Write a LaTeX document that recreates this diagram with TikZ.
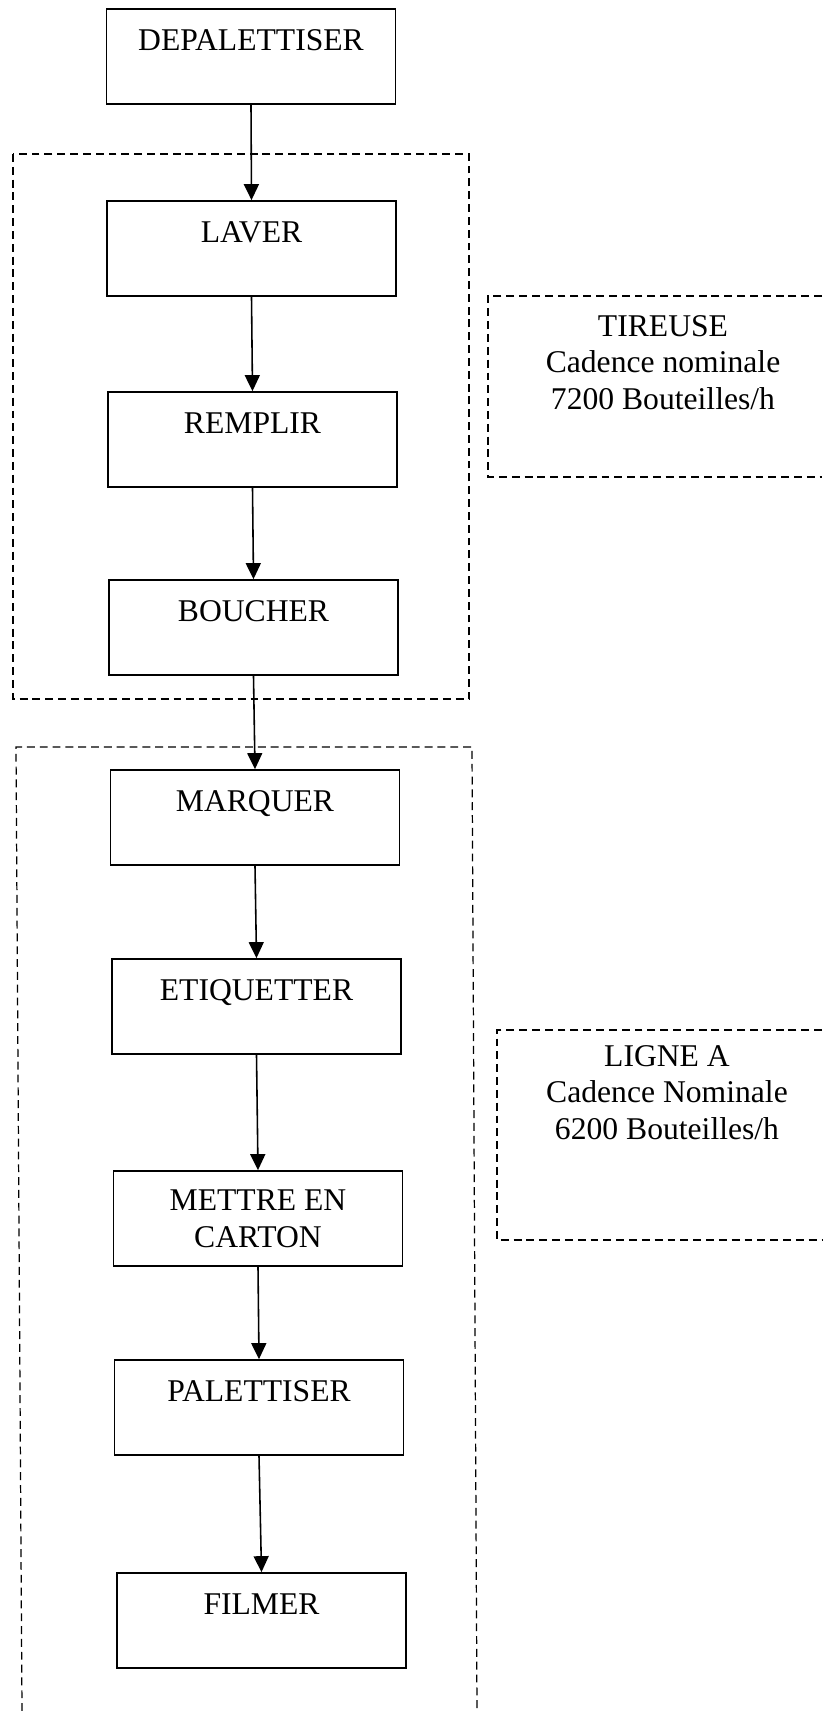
\documentclass[tikz,border=0pt]{standalone}
\usepackage{fontspec}
\setmainfont{Liberation Serif}
\usetikzlibrary{arrows.meta}

\begin{document}
\begin{tikzpicture}[
    stepbox/.style={draw, line width=1pt, minimum width=5.78cm, minimum height=1.9cm,
      inner sep=0pt, text height=0.82cm, text depth=1.08cm, align=center},
    flow/.style={line width=0.9pt, -{Triangle[width=0.3cm,length=0.32cm]}},
    frame/.style={dashed, line width=0.7pt, dash pattern=on 4.5pt off 2.8pt},
    note/.style={anchor=north, inner sep=0pt, align=center}
  ]
    \useasboundingbox (0,0) rectangle (16.44,-34.22);
    \fontsize{18}{20.7}\selectfont
    \node[stepbox] (dep) at (5.02,-1.13) {DEPALETTISER};
    \node[stepbox] (laver) at (5.03,-4.97) {LAVER};
    \node[stepbox] (remplir) at (5.05,-8.79) {REMPLIR};
    \node[stepbox] (boucher) at (5.07,-12.55) {BOUCHER};
    \node[stepbox] (marquer) at (5.10,-16.35) {MARQUER};
    \node[stepbox] (etiq) at (5.13,-20.13) {ETIQUETTER};
    \node[stepbox, text height=1.52cm, text depth=0.38cm] (carton) at (5.16,-24.37) {METTRE EN\\CARTON};
    \node[stepbox] (palet) at (5.18,-28.15) {PALETTISER};
    \node[stepbox] (filmer) at (5.23,-32.41) {FILMER};
    \draw[flow] (dep.south) -- (laver.north);
    \draw[flow] (laver.south) -- (remplir.north);
    \draw[flow] (remplir.south) -- (boucher.north);
    \draw[flow] (boucher.south) -- (marquer.north);
    \draw[flow] (marquer.south) -- (etiq.north);
    \draw[flow] (etiq.south) -- (carton.north);
    \draw[flow] (carton.south) -- (palet.north);
    \draw[flow] (palet.south) -- (filmer.north);
    \draw[frame] (0.26,-3.08) rectangle (9.38,-13.98);
    \draw[frame] (0.44,-34.22) -- (0.32,-14.94) -- (9.44,-14.94) -- (9.54,-34.22);
    \draw[frame] (16.44,-5.92) -- (9.76,-5.92) -- (9.76,-9.54) -- (16.44,-9.54);
    \draw[frame] (16.44,-20.6) -- (9.94,-20.6) -- (9.94,-24.8) -- (16.44,-24.8);
    \node[note] (tireuse) at (13.26,-6.30) {TIREUSE\\Cadence nominale\\7200 Bouteilles/h};
    \node[note] (ligne) at (13.34,-20.90) {LIGNE A\\Cadence Nominale\\6200 Bouteilles/h};
  \end{tikzpicture}
\end{document}
